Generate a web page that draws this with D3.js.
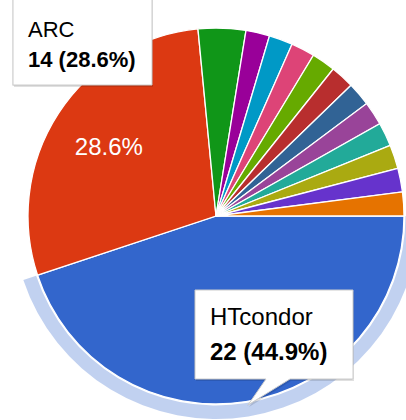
<!DOCTYPE html>
<html>
<head>
<meta charset="utf-8">
<script src="https://d3js.org/d3.v7.min.js"></script>
<style>
  body { margin: 0; background: #fff; }
  svg { display: block; font-family: Arial, "Liberation Sans", sans-serif; }
</style>
</head>
<body>
<svg id="chart" width="406" height="420"></svg>
<script>
// slice data (only the two big ones are labelled in the picture)
var categories = ["HTcondor", "ARC", "CREAM", "Slurm", "PBS", "LSF", "SGE", "Torque",
                  "BOINC", "Globus", "OSG", "Nordugrid", "UNICORE", "Other"];
var values = [22, 14, 2, 1, 1, 1, 1, 1, 1, 1, 1, 1, 1, 1];
var colors = ["#3366cc", "#dc3912", "#109618", "#990099", "#0099c6", "#dd4477", "#66aa00",
              "#b82e2e", "#316395", "#994499", "#22aa99", "#aaaa11", "#6633cc", "#e67300"];

var svg = d3.select("#chart");
var cx = 216, cy = 216, r = 188;
var total = d3.sum(values);
var selected = 0; // slice with hover ring + tooltip

var data = categories.map(function(c, i) { return {name: c, value: values[i], color: colors[i]}; });

var pie = d3.pie().sort(null).value(function(d) { return d.value; })
  .startAngle(Math.PI / 2).endAngle(Math.PI / 2 + 2 * Math.PI);
var arcs = pie(data);

var arc = d3.arc().innerRadius(0).outerRadius(r);
var labelArc = d3.arc().innerRadius(r * 0.68).outerRadius(r * 0.68);
var ringArc = d3.arc().innerRadius(r + 1.5).outerRadius(r + 15);

var g = svg.append("g").attr("transform", "translate(" + cx + "," + cy + ")");

// hover ring on the selected slice (HTcondor)
g.append("path")
  .attr("d", ringArc(arcs[selected]))
  .attr("fill", "#3366cc")
  .attr("fill-opacity", 0.3);

g.selectAll("path.slice")
  .data(arcs)
  .enter().append("path")
  .attr("class", "slice")
  .attr("d", arc)
  .attr("fill", function(d) { return d.data.color; })
  .attr("stroke", "#fff")
  .attr("stroke-width", 1.3);

var pct = function(v) { return (v / total * 100).toFixed(1) + "%"; };

// slice text for the big slices (the selected one sits under its tooltip)
g.selectAll("text.pct")
  .data(arcs.filter(function(d) { return d.value / total > 0.2 && d.index !== selected; }))
  .enter().append("text")
  .attr("class", "pct")
  .attr("transform", function(d) { return "translate(" + labelArc.centroid(d) + ")"; })
  .attr("text-anchor", "middle")
  .attr("dy", "0.36em")
  .attr("fill", "#fff")
  .style("font-size", "24px")
  .text(function(d) { return pct(d.value); });

// tooltips
function tooltip(box, d, fs, base1, base2, pointer) {
  var t = svg.append("g");
  var shape;
  if (pointer) {
    shape = "M" + box.x + "," + box.y + "H" + (box.x + box.w) + "V" + (box.y + box.h) +
      "H" + pointer[2] + "L" + pointer[0] + "," + pointer[1] + "L" + pointer[3] + "," + (box.y + box.h) +
      "H" + box.x + "Z";
  } else {
    shape = "M" + box.x + "," + box.y + "h" + box.w + "v" + box.h + "h" + (-box.w) + "Z";
  }
  t.append("path").attr("d", shape).attr("transform", "translate(1,2)")
    .attr("fill", "#000").attr("fill-opacity", 0.12);
  t.append("path").attr("d", shape).attr("transform", "translate(-1,1)")
    .attr("fill", "#000").attr("fill-opacity", 0.08);
  t.append("path").attr("d", shape).attr("fill", "#fff")
    .attr("stroke", "#ccc").attr("stroke-width", 1);
  t.append("text").attr("x", box.x + 15).attr("y", base1)
    .style("font-size", fs + "px").attr("fill", "#000").text(d.name);
  t.append("text").attr("x", box.x + 15).attr("y", base2)
    .style("font-size", fs + "px").style("font-weight", "bold").attr("fill", "#000")
    .text(d.value + " (" + pct(d.value) + ")");
}

tooltip({x: 13, y: -10, w: 139, h: 95}, data[1], 22, 37, 67, null);
tooltip({x: 195, y: 290, w: 158, h: 89}, data[0], 24, 325, 360, [248, 405, 290, 266]);
</script>
</body>
</html>
